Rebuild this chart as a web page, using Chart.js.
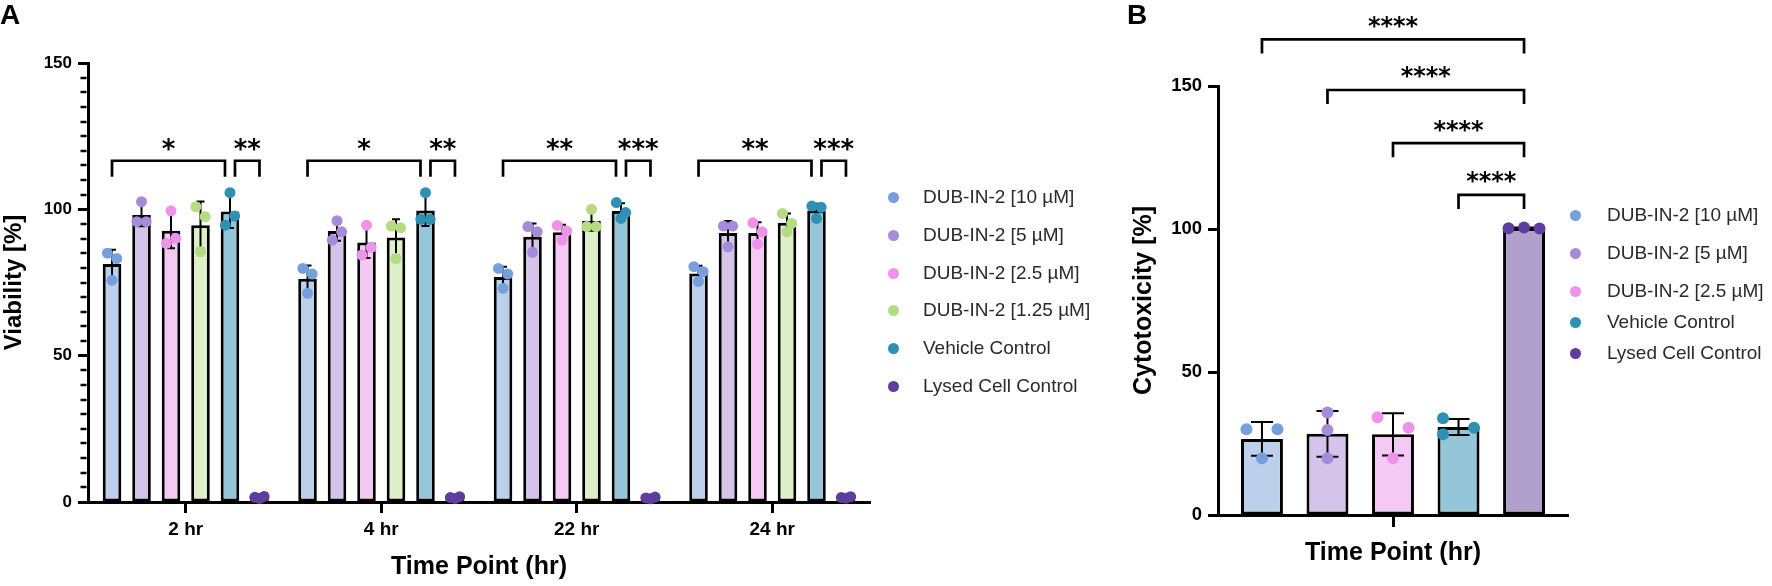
<!DOCTYPE html>
<html><head><meta charset="utf-8">
<script src="https://cdn.jsdelivr.net/npm/chart.js@4.4.1/dist/chart.umd.min.js"></script>
<style>
html,body{margin:0;padding:0;background:#fff;}
#wrap{position:relative;width:1772px;height:586px;overflow:hidden;font-family:"Liberation Sans",Arial,sans-serif;background:#fff;}
canvas{position:absolute;top:0;}
#cA{left:0;} #cB{left:1100px;}
.panel{position:absolute;font-weight:bold;font-size:28px;line-height:28px;color:#000;}
.leg{position:absolute;font-size:19px;line-height:20px;color:#2a2a2a;white-space:nowrap;}
.dot{position:absolute;border-radius:50%;}
</style></head>
<body><div id="wrap">
<canvas id="cA" width="900" height="586"></canvas>
<canvas id="cB" width="480" height="586"></canvas>
<div class="panel" style="left:0px;top:1px">A</div>
<div class="panel" style="left:1127px;top:1px">B</div>
</div>
<script>
// ================= DATA =================
const timePoints = ['2 hr', '4 hr', '22 hr', '24 hr'];
const seriesNamesA = ['DUB-IN-2 [10 µM]', 'DUB-IN-2 [5 µM]', 'DUB-IN-2 [2.5 µM]', 'DUB-IN-2 [1.25 µM]', 'Vehicle Control', 'Lysed Cell Control'];

const viab10 = [81.3, 76.3, 76.9, 78.1];
const viab10Sd = [4.9, 4.5, 3.5, 2.6];
const viab10Pts = [[85.0, 83.2, 75.8], [79.8, 77.9, 71.3], [79.8, 77.9, 73.0], [80.4, 78.7, 75.3]];

const viab5 = [98.1, 92.6, 90.6, 91.9];
const viab5Sd = [3.9, 3.3, 4.6, 4.1];
const viab5Pts = [[95.8, 95.8, 102.6], [89.5, 92.3, 96.1], [94.1, 92.3, 85.3], [94.3, 94.3, 87.2]];

const viab25 = [92.7, 88.7, 92.2, 91.9];
const viab25Sd = [6.0, 5.3, 2.5, 3.7];
const viab25Pts = [[88.4, 90.1, 99.5], [84.4, 87.0, 94.6], [94.5, 92.6, 89.5], [95.4, 92.3, 88.1]];

const viab125 = [94.6, 90.4, 96.1, 95.4];
const viab125Sd = [8.1, 6.2, 3.4, 3.2];
const viab125Pts = [[100.9, 97.5, 85.5], [94.3, 93.7, 83.2], [94.1, 94.1, 100.0], [98.6, 95.2, 92.3]];

const viabVeh = [99.3, 99.6, 99.4, 99.6];
const viabVehSd = [5.7, 5.3, 2.7, 2.3];
const viabVehPts = [[94.6, 97.7, 105.7], [96.6, 96.6, 105.7], [102.3, 98.9, 96.9], [101.1, 100.7, 96.9]];

const viabLys = [1.6, 1.5, 1.4, 1.5];
const viabLysSd = [0.3, 0.3, 0.3, 0.3];
const viabLysPts = [[1.6, 1.9, 1.2], [1.5, 1.8, 1.2], [1.4, 1.7, 1.1], [1.5, 1.8, 1.3]];

const sigALeft = ['*', '*', '**', '**'];
const sigARight = ['**', '**', '***', '***'];
const yTicksA = [0, 50, 100, 150];

const seriesNamesB = ['DUB-IN-2 [10 µM]', 'DUB-IN-2 [5 µM]', 'DUB-IN-2 [2.5 µM]', 'Vehicle Control', 'Lysed Cell Control'];
const cyto = [26.6, 28.4, 28.2, 30.8, 100.3];
const cytoSd = [5.9, 8.0, 7.4, 2.8, 0.2];
const cytoPts = [[30.0, 30.0, 19.8], [35.8, 29.7, 19.8], [34.2, 30.5, 19.8], [33.8, 28.2, 30.5], [100.3, 100.5, 100.2]];
const sigB = ['****', '****', '****', '****'];
const yTicksB = [0, 50, 100, 150];

// ================= STYLE =================
const FONT = '"Liberation Sans", Arial, Helvetica, sans-serif';
const FILL = ['#bcd0ec', '#d4c4ea', '#f4c9f3', '#def0c8', '#95c5d8', '#b0a0cc'];
const DOT = ['#76a0dc', '#a58bd8', '#ef93ea', '#b4dc82', '#2f90b6', '#5f3d9c'];
const B_IDX = [0, 1, 2, 4, 5];
const JIT_A = [-0.25, 0.25, 0];
const JIT_B = [[-1, 1, 0], [0, 0, 0], [-1, 1, 0], [-1, -1, 1], [-1, 0, 1]];
Chart.defaults.font.family = FONT;

const aMean = [viab10, viab5, viab25, viab125, viabVeh, viabLys];
const aSd = [viab10Sd, viab5Sd, viab25Sd, viab125Sd, viabVehSd, viabLysSd];
const aPts = [viab10Pts, viab5Pts, viab25Pts, viab125Pts, viabVehPts, viabLysPts];

function errBar(ctx, x, yHi, yLo, half, lw) {
  ctx.save();
  ctx.strokeStyle = '#000'; ctx.lineWidth = lw;
  ctx.beginPath();
  ctx.moveTo(x, yHi); ctx.lineTo(x, yLo);
  ctx.moveTo(x - half, yHi); ctx.lineTo(x + half, yHi);
  ctx.moveTo(x - half, yLo); ctx.lineTo(x + half, yLo);
  ctx.stroke();
  ctx.restore();
}
function dot(ctx, x, y, r, c) {
  ctx.beginPath(); ctx.arc(x, y, r, 0, Math.PI * 2); ctx.fillStyle = c; ctx.fill();
}
function bracket(ctx, x1, x2, yTop, yLeg, lw) {
  ctx.save(); ctx.strokeStyle = '#000'; ctx.lineWidth = lw; ctx.lineJoin = 'miter';
  ctx.beginPath(); ctx.moveTo(x1, yLeg); ctx.lineTo(x1, yTop); ctx.lineTo(x2, yTop); ctx.lineTo(x2, yLeg); ctx.stroke();
  ctx.restore();
}
function stars(ctx, text, x, yc, size) {
  ctx.save(); ctx.fillStyle = '#000';
  ctx.font = 'bold ' + size + 'px "DejaVu Sans", sans-serif';
  ctx.textAlign = 'center'; ctx.textBaseline = 'alphabetic';
  ctx.fillText(text, x, yc + size * 0.56);
  ctx.restore();
}

const overlayA = {
  id: 'overlayA',
  afterDraw(chart) {
    const ctx = chart.ctx, ys = chart.scales.y, ca = chart.chartArea;
    // minor ticks
    ctx.save(); ctx.strokeStyle = '#000'; ctx.lineWidth = 2.5;
    for (let v = 5; v < 150; v += 5) {
      if (v % 50 === 0) continue;
      const py = Math.round(ys.getPixelForValue(v));
      ctx.beginPath(); ctx.moveTo(ca.left - 1.5, py); ctx.lineTo(ca.left - 7.5, py); ctx.stroke();
    }
    ctx.restore();
    // error bars and points
    aMean.forEach((mean, di) => {
      const meta = chart.getDatasetMeta(di);
      meta.data.forEach((bar, i) => {
        const p = bar.getProps(['x', 'width'], true);
        errBar(ctx, p.x, ys.getPixelForValue(mean[i] + aSd[di][i]), ys.getPixelForValue(mean[i] - aSd[di][i]), 4, 2);
        aPts[di][i].forEach((v, k) => dot(ctx, p.x + JIT_A[k] * p.width, ys.getPixelForValue(v), 5.5, DOT[di]));
      });
    });
    // significance
    const yTop = ys.getPixelForValue(116.6), yLeg = ys.getPixelForValue(111.1), yStar = ys.getPixelForValue(122.5);
    timePoints.forEach((t, i) => {
      const x1 = chart.getDatasetMeta(0).data[i].x;
      const x5 = chart.getDatasetMeta(4).data[i].x;
      const x6 = chart.getDatasetMeta(5).data[i].x;
      bracket(ctx, x1, x5 - 5, yTop, yLeg, 2.7);
      bracket(ctx, x5 + 5, x6, yTop, yLeg, 2.7);
      stars(ctx, sigALeft[i], (x1 + x5 - 5) / 2, yStar, 26);
      stars(ctx, sigARight[i], (x5 + 5 + x6) / 2, yStar, 26);
    });
  }
};

const overlayB = {
  id: 'overlayB',
  afterDraw(chart) {
    const ctx = chart.ctx, ys = chart.scales.y;
    cyto.forEach((m, di) => {
      const bar = chart.getDatasetMeta(di).data[0];
      const p = bar.getProps(['x', 'width'], true);
      errBar(ctx, p.x, ys.getPixelForValue(m + cytoSd[di]), ys.getPixelForValue(m - cytoSd[di]), 11, 2);
      cytoPts[di].forEach((v, k) => dot(ctx, p.x + JIT_B[di][k] * 0.37 * p.width, ys.getPixelForValue(v), 6, DOT[B_IDX[di]]));
    });
    const levels = [166.3, 148.6, 130.0, 111.9];
    const xLast = chart.getDatasetMeta(4).data[0].x;
    sigB.forEach((s, k) => {
      const x1 = chart.getDatasetMeta(k).data[0].x;
      const yT = ys.getPixelForValue(levels[k]);
      bracket(ctx, x1, xLast, yT, yT + 14, 2.7);
      stars(ctx, s, (x1 + xLast) / 2, yT - 19, 24);
    });
  }
};

function axisFont(size) { return { family: FONT, weight: 'bold', size: size }; }

new Chart(document.getElementById('cA'), {
  type: 'bar',
  data: {
    labels: timePoints,
    datasets: aMean.map((d, i) => ({
      label: seriesNamesA[i], data: d,
      backgroundColor: FILL[i], borderColor: '#000', borderWidth: 3, borderSkipped: false,
      categoryPercentage: 0.905, barPercentage: 0.63
    }))
  },
  options: {
    responsive: false, animation: false, devicePixelRatio: 1,
    layout: { padding: { top: 63, right: 30, left: 0, bottom: 0 } },
    plugins: { legend: { display: false }, tooltip: { enabled: false } },
    scales: {
      x: {
        offset: true,
        grid: { display: true, offset: false, drawOnChartArea: false, drawTicks: true, tickLength: 11, tickWidth: 3, tickColor: '#000' },
        border: { display: true, color: '#000', width: 3 },
        ticks: { color: '#000', font: axisFont(19), padding: 5, maxRotation: 0 },
        title: { display: true, text: 'Time Point (hr)', color: '#000', font: axisFont(25), padding: { top: 0, bottom: 4 } },
        afterFit(s) { s.height = 84; }
      },
      y: {
        min: 0, max: 150,
        afterBuildTicks(s) { s.ticks = yTicksA.map(v => ({ value: v })); },
        grid: { display: true, drawOnChartArea: false, drawTicks: true, tickLength: 10, tickWidth: 3, tickColor: '#000' },
        border: { display: true, color: '#000', width: 3 },
        ticks: { color: '#000', font: axisFont(17), padding: 6 },
        title: { display: true, text: 'Viability [%]', color: '#000', font: axisFont(24), padding: { top: 0, bottom: 0 } },
        afterFit(s) { s.width = 88; }
      }
    }
  },
  plugins: [overlayA]
});

new Chart(document.getElementById('cB'), {
  type: 'bar',
  data: {
    labels: [''],
    datasets: cyto.map((v, i) => ({
      label: seriesNamesB[i], data: [v],
      backgroundColor: FILL[B_IDX[i]], borderColor: '#000', borderWidth: 3, borderSkipped: false,
      categoryPercentage: 0.936, barPercentage: 0.64
    }))
  },
  options: {
    responsive: false, animation: false, devicePixelRatio: 1,
    layout: { padding: { top: 86, right: 12, left: 0, bottom: 0 } },
    plugins: { legend: { display: false }, tooltip: { enabled: false } },
    scales: {
      x: {
        offset: true,
        grid: { display: true, offset: false, drawOnChartArea: false, drawTicks: true, tickLength: 12, tickWidth: 3, tickColor: '#000' },
        border: { display: true, color: '#000', width: 3 },
        ticks: { display: true, color: '#000', font: axisFont(17), padding: 6 },
        title: { display: true, text: 'Time Point (hr)', color: '#000', font: axisFont(25), padding: { top: 0, bottom: 18 } },
        afterFit(s) { s.height = 71; }
      },
      y: {
        min: 0, max: 150,
        afterBuildTicks(s) { s.ticks = yTicksB.map(v => ({ value: v })); },
        grid: { display: true, drawOnChartArea: false, drawTicks: true, tickLength: 10, tickWidth: 3, tickColor: '#000' },
        border: { display: true, color: '#000', width: 3 },
        ticks: { color: '#000', font: axisFont(18.5), padding: 6 },
        title: { display: true, text: 'Cytotoxicity [%]', color: '#000', font: axisFont(25), padding: { top: 29, bottom: 0 } },
        afterFit(s) { s.width = 118; }
      }
    }
  },
  plugins: [overlayB]
});

// ================= LEGENDS (HTML text) =================
const wrap = document.getElementById('wrap');
function legend(names, colors, dotX, textX, rows, r) {
  names.forEach((n, i) => {
    const d = document.createElement('div');
    d.className = 'dot';
    d.style.left = (dotX - r) + 'px'; d.style.top = (rows[i] - r) + 'px';
    d.style.width = d.style.height = (2 * r) + 'px';
    d.style.background = colors[i];
    wrap.appendChild(d);
    const t = document.createElement('div');
    t.className = 'leg'; t.textContent = n;
    t.style.left = textX + 'px'; t.style.top = (rows[i] - 10) + 'px';
    wrap.appendChild(t);
  });
}
legend(seriesNamesA, DOT, 893, 923, [197, 235, 273, 310, 348, 386], 5.5);
legend(seriesNamesB, B_IDX.map(i => DOT[i]), 1575, 1607, [215, 253, 291, 322, 353], 5.5);
</script>
</body></html>
